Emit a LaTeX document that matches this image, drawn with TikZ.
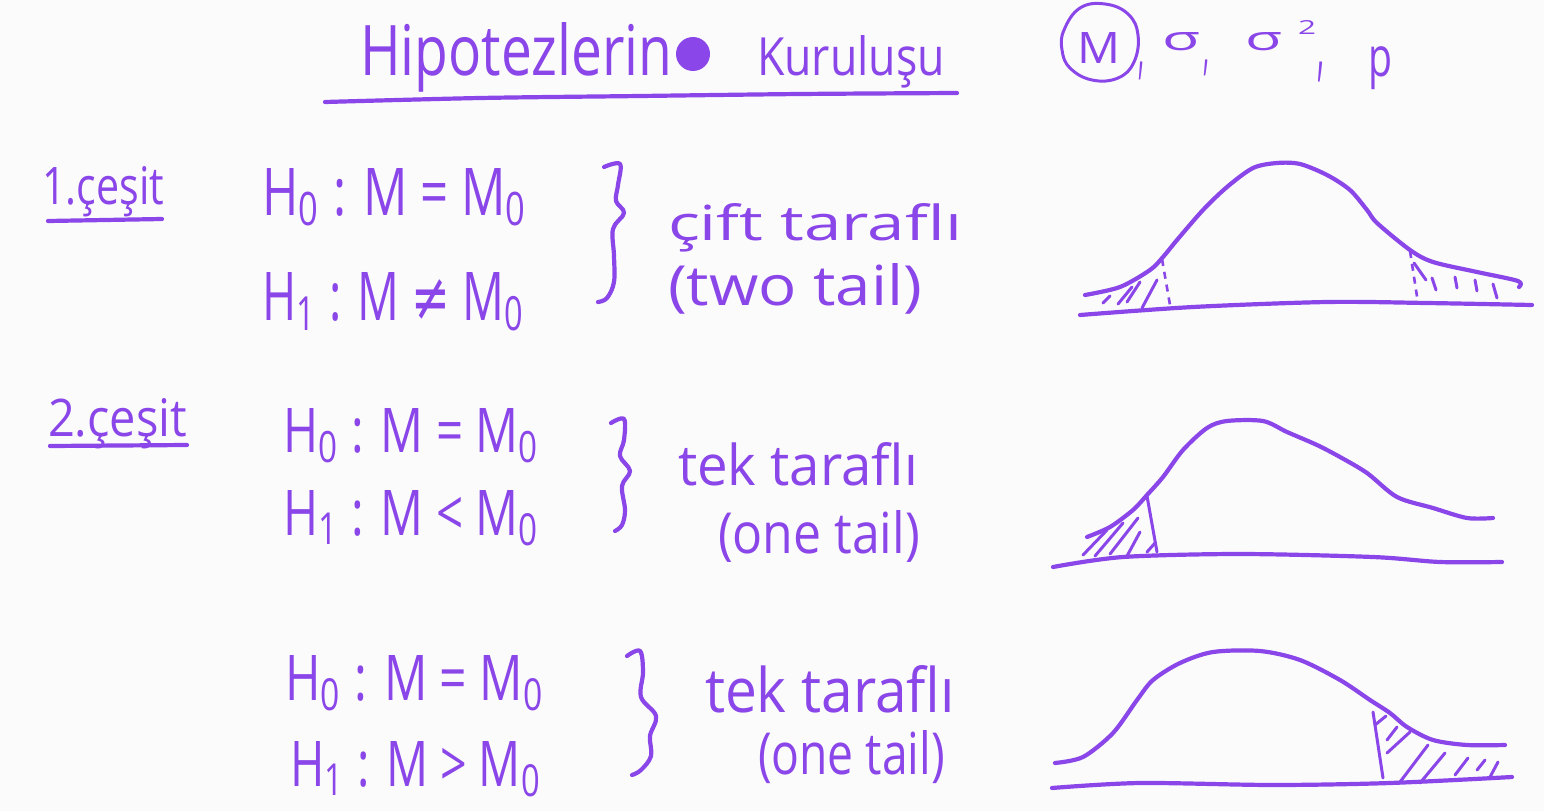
\documentclass[tikz,border=0pt]{standalone}
\usepackage{fontspec}
\usepackage{graphicx}
\setmainfont{Open Sans}
\newfontfamily\dvfont{DejaVu Sans}
\definecolor{ink}{RGB}{138,70,232}
\definecolor{board}{RGB}{251,251,251}
\newcommand{\hw}[3]{\resizebox{#1pt}{#2pt}{#3}}
\newcommand{\hwt}[3]{\resizebox*{#1pt}{#2pt}{#3}}
\tikzset{
  txt/.style={anchor=base west, inner sep=0pt, outer sep=0pt, text=ink},
  toptxt/.style={anchor=north west, inner sep=0pt, outer sep=0pt, text=ink},
  pen/.style={draw=ink, line width=4.2pt, line cap=round, line join=round},
  thinpen/.style={draw=ink, line width=3pt, line cap=round, line join=round},
  dashpen/.style={draw=ink, line width=2.6pt, dash pattern=on 7pt off 6pt},
}
\begin{document}
\begin{tikzpicture}[x=1pt,y=-1pt]
\fill[board] (0,0) rectangle (1544,811);
\useasboundingbox (0,0) rectangle (1544,811);

% ---- title ----
\node[txt] (t1) at (360,75) {\hw{312}{53}{Hipotezlerin}};
\fill[ink] (693,54) circle (17);
\node[txt] (t2) at (757,75) {\hw{188}{40}{Kuruluşu}};
\draw[pen] plot[smooth] coordinates {(325,102) (480,98) (640,96) (800,94) (957,93)};

% ---- parameters ----
\node[txt] (pm) at (1077,63) {\hw{43}{31}{M}};
\draw[thinpen] plot[smooth cycle, tension=0.7] coordinates {(1064,30) (1080,8) (1105,4) (1128,14) (1138,35) (1134,62) (1118,78) (1092,80) (1070,68) (1062,50)};
\node[toptxt] (c1) at (1138,62) {\hwt{6}{18}{,}};
\node[txt] (s1) at (1162,50) {\hw{38}{18}{σ}};
\node[toptxt] (c2) at (1203,60) {\hwt{6}{16}{,}};
\node[txt] (s2) at (1245,50) {\hw{37}{18}{σ}};
\node[txt] (sq) at (1298,34) {\hw{18}{14}{2}};
\node[toptxt] (c3) at (1317,62) {\hwt{7}{20}{,}};
\node[toptxt] (pp) at (1368,47) {\hwt{24}{43}{p}};

% ---- row 1 ----
\node[txt] (k1) at (42,204) {\hw{122}{38}{1.çeşit}};
\draw[pen] (48,221) -- (162,219);
\node[txt] (a0) at (262,215) {\hw{266}{47}{H\textsubscript{0} : M = M\textsubscript{0}}};
\node[txt] (a1) at (262,320) {\hw{263}{48}{H\textsubscript{1} : M {\dvfont ≠} M\textsubscript{0}}};
\draw[pen] plot[smooth, tension=0.6] coordinates {(604,167) (620,164) (618,185) (616,201) (624,213) (613,229) (614,256) (614,282) (607,298) (598,302)};
\node[txt] (a2) at (668,240) {\hw{294}{37}{çift taraflı}};
\node[txt] (a3) at (668,305) {\hw{254}{42}{(two tail)}};

% ---- row 2 ----
\node[txt] (k2) at (48,436) {\hw{139}{38}{2.çeşit}};
\draw[pen] (50,446) -- (187,445);
\node[txt] (b0) at (283,452) {\hw{257}{44}{H\textsubscript{0} : M = M\textsubscript{0}}};
\node[txt] (b1) at (283,535) {\hw{257}{45}{H\textsubscript{1} : M < M\textsubscript{0}}};
\draw[pen] plot[smooth, tension=0.6] coordinates {(611,423) (624,419) (624,440) (620,456) (630,471) (622,486) (625,510) (622,525) (615,531)};
\node[txt] (b2) at (678,485) {\hw{240}{43}{tek taraflı}};
\node[txt] (b3) at (718,553) {\hw{202}{43}{(one tail)}};

% ---- row 3 ----
\node[txt] (d0) at (285,700) {\hw{260}{45}{H\textsubscript{0} : M = M\textsubscript{0}}};
\node[txt] (d1) at (290,786) {\hw{252}{45}{H\textsubscript{1} : M > M\textsubscript{0}}};
\draw[pen] plot[smooth, tension=0.6] coordinates {(627,656) (640,651) (643,672) (641,697) (656,716) (650,736) (651,756) (641,770) (632,775)};
\node[txt] (d2) at (705,712) {\hw{250}{47}{tek taraflı}};
\node[txt] (d3) at (758,774) {\hw{187}{44}{(one tail)}};

% ---- curve 1 (two tail) ----
\draw[pen] plot[smooth] coordinates {(1080,315) (1193,307) (1327,302) (1427,303) (1532,305)};
\draw[pen] plot[smooth] coordinates {(1085,295) (1120,287) (1150,270) (1163,257) (1177,240) (1203,210) (1227,187) (1253,168) (1277,163) (1300,164) (1327,175) (1350,190) (1367,210) (1377,223) (1410,250) (1433,262) (1477,272) (1518,281) (1519,287)};
\draw[dashpen] (1162,259) -- (1170,305);
\draw[dashpen] (1410,251) -- (1418,303);
\draw[thinpen] (1103,303) -- (1110,296);
\draw[thinpen] (1118,304) -- (1132,287);
\draw[thinpen] (1127,302) -- (1140,282);
\draw[thinpen] (1142,308) -- (1157,280);
\draw[thinpen] (1414,263) -- (1426,280);
\draw[thinpen] (1432,278) -- (1436,290);
\draw[thinpen] (1455,277) -- (1457,288);
\draw[thinpen] (1475,280) -- (1477,291);
\draw[thinpen] (1493,284) -- (1497,298);

% ---- curve 2 (left tail) ----
\draw[pen] plot[smooth] coordinates {(1053,567) (1123,557) (1240,554) (1373,557) (1440,562) (1502,562)};
\draw[pen] plot[smooth] coordinates {(1087,537) (1110,527) (1133,510) (1147,495) (1163,477) (1183,450) (1207,428) (1227,421) (1263,421) (1287,432) (1317,445) (1340,457) (1367,473) (1397,497) (1433,508) (1467,518) (1493,518)};
\draw[thinpen] (1147,496) -- (1157,552);
\draw[thinpen] (1083,555) -- (1107,530);
\draw[thinpen] (1095,556) -- (1123,523);
\draw[thinpen] (1110,554) -- (1138,518);
\draw[thinpen] (1127,556) -- (1140,532);
\draw[thinpen] (1147,552) -- (1155,543);

% ---- curve 3 (right tail) ----
\draw[pen] plot[smooth] coordinates {(1052,788) (1140,783) (1273,785) (1390,783) (1512,777)};
\draw[pen] plot[smooth] coordinates {(1055,763) (1083,757) (1113,733) (1137,700) (1153,680) (1180,663) (1213,652) (1260,651) (1300,660) (1340,680) (1370,700) (1390,713) (1407,727) (1433,740) (1467,745) (1505,745)};
\draw[thinpen] (1373,712) -- (1383,778);
\draw[thinpen] (1375,725) -- (1386,716);
\draw[thinpen] (1387,740) -- (1397,727);
\draw[thinpen] (1387,753) -- (1410,732);
\draw[thinpen] (1400,782) -- (1428,745);
\draw[thinpen] (1420,783) -- (1445,753);
\draw[thinpen] (1455,775) -- (1468,758);
\draw[thinpen] (1477,770) -- (1485,760);
\draw[thinpen] (1490,777) -- (1498,762);
\end{tikzpicture}
\end{document}
